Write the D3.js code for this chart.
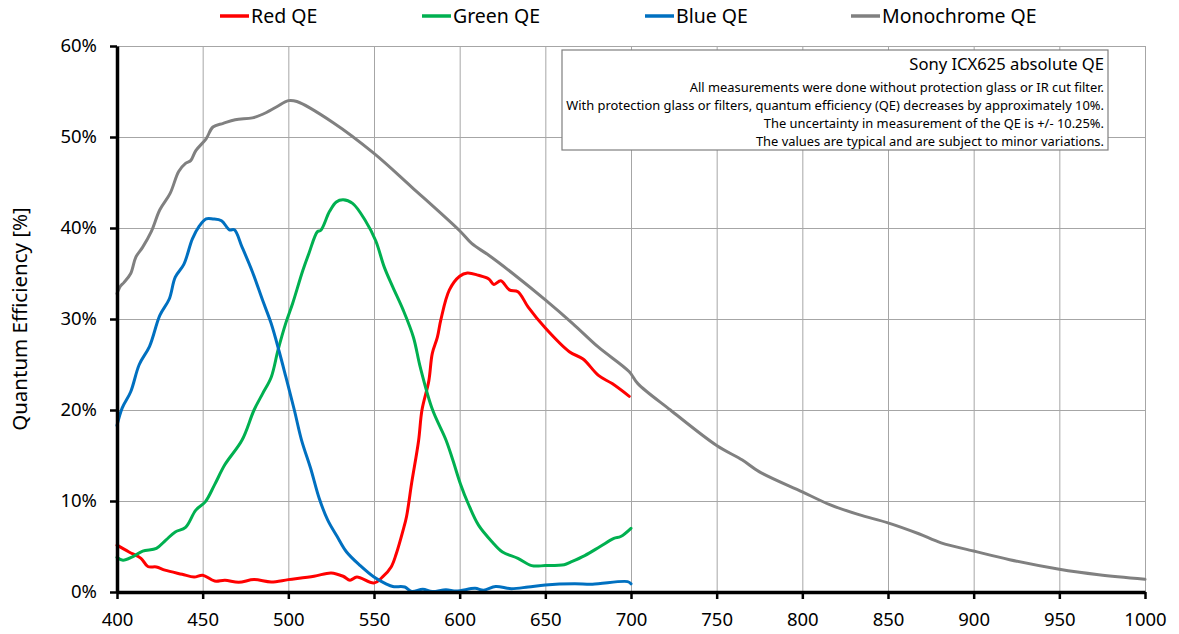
<!DOCTYPE html>
<html>
<head>
<meta charset="utf-8">
<script src="https://cdn.jsdelivr.net/npm/d3@7"></script>
<style>
  body { margin: 0; background: #fff; }
  svg text { font-family: "Noto Sans", sans-serif; fill: #000; }
  .grid line { stroke: #a6a6a6; stroke-width: 1; }
  .grid path { display: none; }
  .axis path, .axis line { stroke: #000; }
</style>
</head>
<body>
<svg id="chart" width="1179" height="634"></svg>
<script>
// ---- data (wavelength nm / QE %) ----
var redNm = [400, 407, 414, 418, 423, 428, 438, 445, 450, 457, 463, 471, 480, 490, 500, 515, 525, 532, 536, 540,
    550, 555, 560, 563, 567, 569, 572, 576, 578, 582, 584, 587, 589, 594, 600, 604.5, 611, 617, 620, 624,
    629, 634, 640, 650, 664, 672, 681, 689, 699];
var redQE = [5.15, 4.4, 3.7, 2.8, 2.75, 2.4, 1.95, 1.65, 1.85, 1.2, 1.3, 1.07, 1.36, 1.1, 1.36, 1.73, 2.1, 1.73, 1.3, 1.65,
    1.0, 1.65, 2.75, 4.2, 6.8, 8.3, 12.0, 16.6, 20.0, 23.2, 26.2, 28.0, 29.9, 33.2, 34.7, 35.05, 34.8, 34.4, 33.8, 34.2,
    33.2, 33.0, 31.3, 29.0, 26.4, 25.6, 23.8, 22.9, 21.5];

var greenNm = [400, 403.5, 409, 415, 423, 428.5, 434, 440, 446, 451.5, 457, 463, 473, 480, 485, 490, 494, 498.6, 502.5, 508.4,
    512, 517, 519, 524, 528, 532, 537.5, 545, 551, 556, 561, 567, 573, 577, 584, 592, 596, 600.4, 605, 611,
    619, 625, 634, 642, 650, 661, 665, 673, 682, 690, 694, 700];
var greenQE = [3.8, 3.5, 3.86, 4.5, 4.8, 5.7, 6.6, 7.1, 9.0, 9.9, 11.8, 14.0, 16.7, 20.0, 21.8, 23.6, 26.6, 29.6, 31.7, 35.3,
    37.2, 39.6, 39.75, 41.8, 42.86, 43.1, 42.7, 40.8, 38.6, 35.7, 33.5, 31.0, 28.0, 24.7, 20.1, 16.7, 14.5, 11.9, 9.7, 7.35,
    5.5, 4.4, 3.7, 2.9, 2.9, 3.0, 3.3, 4.0, 5.0, 5.9, 6.1, 7.0];

var blueNm = [400, 403, 408, 413, 419, 425, 430.5, 434, 439, 444, 448, 452, 456, 461, 465.6, 468.5, 473, 479, 485, 490,
    494.7, 498.6, 503.5, 507.7, 513, 518, 523, 528.5, 534, 542, 550, 557, 561, 568, 572, 578.5, 584, 592, 598, 609,
    614, 621, 630, 640, 650, 667, 677.5, 698, 700];
var blueQE = [18.3, 20.2, 22.0, 25.0, 27.0, 30.4, 32.2, 34.6, 36.0, 38.8, 40.2, 41.0, 41.0, 40.8, 39.8, 39.8, 37.9, 35.2, 32.05, 29.5,
    26.4, 23.6, 20.0, 16.7, 13.6, 10.3, 7.9, 6.1, 4.4, 2.9, 1.65, 0.9, 0.6, 0.55, 0.05, 0.3, 0.05, 0.26, 0.1, 0.4,
    0.2, 0.6, 0.37, 0.55, 0.77, 0.9, 0.85, 1.14, 0.9];

var monoNm = [400, 402, 404, 408, 411, 415, 420, 425, 431, 436, 440, 443, 446, 452, 456, 462, 469, 479, 485, 493,
    500, 505, 526, 550, 572, 600, 607, 617, 631, 650, 666, 681, 699, 704, 723, 750, 765, 775, 800, 816,
    833, 850, 868, 881, 900, 921, 950, 973, 1000];
var monoQE = [32.8, 33.6, 34.0, 35.0, 36.8, 37.9, 39.6, 42.0, 43.8, 46.2, 47.1, 47.4, 48.5, 49.8, 51.1, 51.5, 51.9, 52.1, 52.5, 53.3,
    54.0, 53.9, 51.6, 48.2, 44.5, 39.7, 38.3, 37.0, 35.0, 32.1, 29.5, 26.9, 24.2, 22.9, 20.0, 16.1, 14.5, 13.2, 11.0, 9.6,
    8.5, 7.6, 6.4, 5.4, 4.5, 3.55, 2.5, 1.9, 1.4];

var xTicks = [400, 450, 500, 550, 600, 650, 700, 750, 800, 850, 900, 950, 1000];
var yTicks = [0, 10, 20, 30, 40, 50, 60];

var seriesNames = ["Red QE", "Green QE", "Blue QE", "Monochrome QE"];
var seriesColors = ["#ff0000", "#00b050", "#0070c0", "#808080"];

var noteTitle = "Sony ICX625 absolute QE";
var noteLines = [
    "All measurements were done without protection glass or IR cut filter.",
    "With protection glass or filters, quantum efficiency (QE) decreases by approximately 10%.",
    "The uncertainty in measurement of the QE is +/- 10.25%.",
    "The values are typical and are subject to minor variations."
];

// ---- layout ----
const plotL = 117, plotR = 1145, plotT = 46, plotB = 592;

var svg = d3.select("#chart");

var x = d3.scaleLinear().domain([400, 1000]).range([plotL, plotR]);
var y = d3.scaleLinear().domain([0, 60]).range([plotB, plotT]);

// gridlines
svg.append("g")
    .attr("class", "grid")
    .attr("transform", "translate(0," + plotB + ")")
    .call(d3.axisBottom(x).tickValues(xTicks).tickSize(-(plotB - plotT)).tickFormat(""));
svg.append("g")
    .attr("class", "grid")
    .attr("transform", "translate(" + plotL + ",0)")
    .call(d3.axisLeft(y).tickValues(yTicks).tickSize(-(plotR - plotL)).tickFormat(""));

// note box
svg.append("rect")
    .attr("x", 562).attr("y", 50)
    .attr("width", 546).attr("height", 100)
    .attr("fill", "#fff")
    .attr("stroke", "#7f7f7f")
    .attr("stroke-width", 1.2);
svg.append("text")
    .attr("x", 1104).attr("y", 64)
    .attr("dy", "0.35em")
    .attr("text-anchor", "end")
    .style("font-size", "16.6px")
    .text(noteTitle);
svg.selectAll(".note")
    .data(noteLines)
    .enter()
    .append("text")
    .attr("class", "note")
    .attr("x", 1104)
    .attr("y", function(d, i) { return 87 + i * 18.3; })
    .attr("dy", "0.35em")
    .attr("text-anchor", "end")
    .style("font-size", "12.9px")
    .text(function(d) { return d; });

// curves
var line = d3.line()
    .x(function(d) { return x(d[0]); })
    .y(function(d) { return y(d[1]); })
    .curve(d3.curveCatmullRom);

var series = [
    d3.zip(redNm, redQE),
    d3.zip(greenNm, greenQE),
    d3.zip(blueNm, blueQE),
    d3.zip(monoNm, monoQE)
];
series.forEach(function(s, i) {
    svg.append("path")
        .datum(s)
        .attr("fill", "none")
        .attr("stroke", seriesColors[i])
        .attr("stroke-width", 3)
        .attr("stroke-linejoin", "round")
        .attr("stroke-linecap", "round")
        .attr("d", line);
});

// axes
var xAxis = svg.append("g")
    .attr("class", "axis")
    .attr("transform", "translate(0," + plotB + ")")
    .call(d3.axisBottom(x).tickValues(xTicks).tickSize(7).tickPadding(14).tickSizeOuter(0)
        .tickFormat(d3.format("d")));
xAxis.select(".domain").attr("stroke-width", 3.5);
xAxis.selectAll("line").attr("stroke-width", 2.5);
xAxis.selectAll("text").style("font-size", "18.5px");

var yAxis = svg.append("g")
    .attr("class", "axis")
    .attr("transform", "translate(" + plotL + ",0)")
    .call(d3.axisLeft(y).tickValues(yTicks).tickSize(7).tickPadding(13).tickSizeOuter(0)
        .tickFormat(function(d) { return d + "%"; }));
yAxis.select(".domain").attr("stroke-width", 3.5);
yAxis.selectAll("line").attr("stroke-width", 2.5);
yAxis.selectAll("text").style("font-size", "18.5px");

svg.append("text")
    .attr("transform", "translate(20," + ((plotT + plotB) / 2) + ") rotate(-90)")
    .attr("dy", "0.35em")
    .attr("text-anchor", "middle")
    .style("font-size", "20.5px")
    .text("Quantum Efficiency [%]");

// legend
var legendX = [220, 422, 645, 851];
var legend = svg.selectAll(".legend")
    .data(seriesNames)
    .enter()
    .append("g")
    .attr("class", "legend")
    .attr("transform", function(d, i) { return "translate(" + legendX[i] + ",16)"; });
legend.append("line")
    .attr("x1", 0).attr("x2", 29)
    .attr("y1", 0).attr("y2", 0)
    .attr("stroke", function(d, i) { return seriesColors[i]; })
    .attr("stroke-width", 3.5);
legend.append("text")
    .attr("x", 31)
    .attr("dy", "0.35em")
    .style("font-size", "19.5px")
    .text(function(d) { return d; });
</script>
</body>
</html>
